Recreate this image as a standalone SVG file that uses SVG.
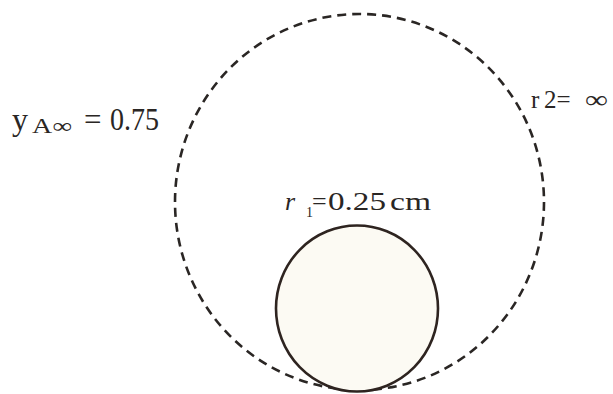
<svg xmlns="http://www.w3.org/2000/svg" width="613" height="394" viewBox="0 0 613 394">
<style>
.t{font-family:"Liberation Serif","Times New Roman",serif;fill:#2a2624}
.dash{fill:none;stroke:#2a2624;stroke-width:2.6;stroke-dasharray:9 6}
.solid{fill:#fcfaf3;stroke:#2e2420;stroke-width:2.6}
</style>
<rect width="613" height="394" fill="#ffffff"/>
<g id="outer-boundary">
<ellipse class="dash" cx="359.5" cy="202" rx="184.5" ry="188"/>
</g>
<g id="particle">
<ellipse class="solid" cx="357" cy="308.5" rx="81" ry="83"/>
</g>
<g id="label-y" class="t">
<text x="12" y="130" font-size="32">y</text>
<text x="32" y="133" font-size="21" textLength="40" lengthAdjust="spacingAndGlyphs">A∞</text>
<text x="84" y="130" font-size="31">=</text>
<text x="110" y="130" font-size="31" textLength="49" lengthAdjust="spacingAndGlyphs">0.75</text>
</g>
<g id="label-r2" class="t">
<text x="531" y="108" font-size="25">r</text>
<text x="544" y="108" font-size="25">2=</text>
<text x="585" y="108" font-size="25" textLength="23" lengthAdjust="spacingAndGlyphs">∞</text>
</g>
<g id="label-r1" class="t">
<text x="285" y="210" font-size="26" font-style="italic">r</text>
<text x="306" y="217" font-size="14">1</text>
<text x="312" y="210" font-size="26">=</text>
<text x="328" y="210" font-size="26" textLength="58" lengthAdjust="spacingAndGlyphs">0.25</text>
<text x="390" y="210" font-size="26" textLength="41" lengthAdjust="spacingAndGlyphs">cm</text>
</g>
</svg>
